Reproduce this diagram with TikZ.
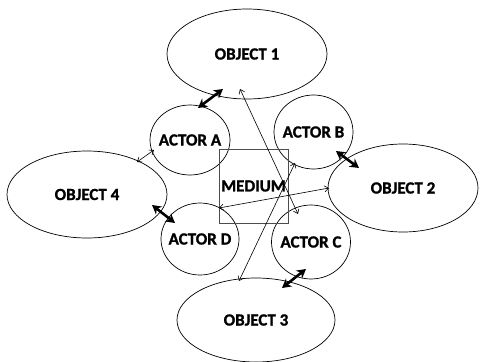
\documentclass[tikz,border=0pt]{standalone}
\usepackage{fontspec}
\setmainfont{Carlito}[BoldFeatures={FakeBold=1.2}]
\usetikzlibrary{shapes.geometric,arrows.meta,calc}
\begin{document}
\begin{tikzpicture}[x=1pt,y=-1pt,
  shp/.style={ellipse, draw, line width=0.7pt, inner sep=0pt, outer sep=0pt},
  lbl/.style={font=\fontsize{17}{19}\selectfont\bfseries, inner sep=0pt},
  thickarrow/.style={line width=2.6pt, {Stealth[length=9pt,width=10pt]}-{Stealth[length=9pt,width=10pt]}},
  thinarrow/.style={line width=0.6pt, {Straight Barb[length=4pt,width=6pt]}-{Straight Barb[length=4pt,width=6pt]}}]
\useasboundingbox (0,0) rectangle (480,362);
% objects
\node[shp, minimum width=160pt, minimum height=90pt, label={[lbl]center:OBJECT 1}] (O1) at (247,54) {};
\node[shp, minimum width=150pt, minimum height=88pt, label={[lbl]center:OBJECT 2}] (O2) at (403,188) {};
\node[shp, minimum width=158pt, minimum height=84pt, label={[lbl]center:OBJECT 3}] (O3) at (256,320) {};
\node[shp, minimum width=160pt, minimum height=87pt, label={[lbl]center:OBJECT 4}] (O4) at (87,194.5) {};
% actors
\node[shp, minimum width=80pt, minimum height=70pt, label={[lbl]center:ACTOR A}] (A) at (190,140) {};
\node[shp, minimum width=79pt, minimum height=74pt, label={[lbl]center:ACTOR B}] (B) at (313.5,132) {};
\node[shp, minimum width=79pt, minimum height=74pt, label={[lbl]center:ACTOR C}] (C) at (311,242) {};
\node[shp, minimum width=78pt, minimum height=72pt, label={[lbl]center:ACTOR D}] (D) at (200,239) {};
% medium
\node[draw=black!70, line width=0.8pt, minimum width=69pt, minimum height=74pt, inner sep=0pt, outer sep=0pt, label={[lbl]center:MEDIUM}] (M) at (253.5,186) {};
% connectors
\draw[thickarrow] ($(A)+(8,-32)$) -- ($(O1)+(-24,35)$);
\draw[thinarrow] ($(A)+(-36,10)$) -- ($(O4)+(50,-32.5)$);
\draw[thickarrow] ($(O4)+(65,10.5)$) -- ($(D)+(-25,-16)$);
\draw[thickarrow] ($(B)+(22.5,19)$) -- ($(O2)+(-44,-20)$);
\draw[thickarrow] ($(C)+(-5,27)$) -- ($(O3)+(26,-32)$);
\draw[thinarrow] ($(O1)+(-7,35)$) -- ($(C)+(-13,-28)$);
\draw[thinarrow] ($(O3)+(-17,-39)$) -- ($(B)+(-18.5,31)$);
\draw[thinarrow] ($(D)+(19,-31)$) -- ($(O2)+(-74,0)$);
\end{tikzpicture}
\end{document}
